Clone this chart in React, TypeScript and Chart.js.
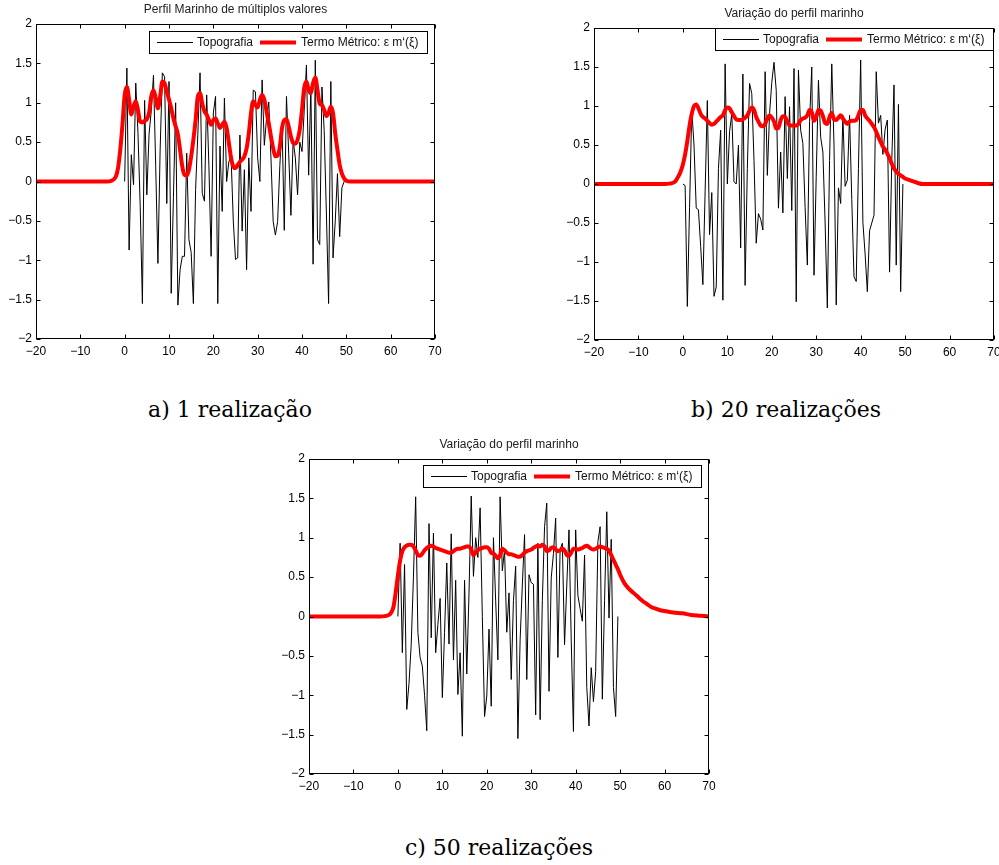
import React, { useEffect, useRef } from 'react';
import { Chart, registerables } from 'chart.js';

Chart.register(...registerables);

const FONT = '"Liberation Sans", Arial, Helvetica, sans-serif';

// Sample positions of the topography (black) series
const TOPO_X = [
  0, 0.5, 1, 1.5, 2, 2.5, 3, 3.5, 4, 4.5, 5, 5.5, 6, 6.5, 7, 7.5, 8, 8.5, 9, 9.5,
  10, 10.5, 11, 11.5, 12, 12.5, 13, 13.5, 14, 14.5, 15, 15.5, 16, 16.5, 17, 17.5, 18, 18.5, 19, 19.5,
  20, 20.5, 21, 21.5, 22, 22.5, 23, 23.5, 24, 24.5, 25, 25.5, 26, 26.5, 27, 27.5, 28, 28.5, 29, 29.5,
  30, 30.5, 31, 31.5, 32, 32.5, 33, 33.5, 34, 34.5, 35, 35.5, 36, 36.5, 37, 37.5, 38, 38.5, 39, 39.5,
  40, 40.5, 41, 41.5, 42, 42.5, 43, 43.5, 44, 44.5, 45, 45.5, 46, 46.5, 47, 47.5, 48, 48.5, 49, 49.5,
];

// a) 1 realização
const TOPO_A = [
  0, 1.44, -0.87, 0.34, -0.04, 1.25, 0.62, -0.3, -1.55, 1.03,
  -0.17, 0.6, 0.9, 1.35, 0.2, -1.04, 0.4, 1.38, 1.33, -0.28,
  1.27, -1.42, -0.2, 1.0, -1.57, -1.12, -0.95, -0.95, 0.36, -0.74,
  -0.9, -1.55, -0.1, 0.6, 1.38, -0.15, -0.25, 1.1, 0.2, -0.95,
  0.87, 1.08, -1.55, 0.45, -0.38, 1.06, 0.0, 0.25, 0.32, -0.5,
  -0.99, -0.97, 0.59, -0.63, 0.15, -1.12, 0.3, -0.38, 1.16, 1.14,
  0.3, 0.0, 1.29, 0.46, 0.8, 1.01, 0.3, -0.51, -0.68, -0.51,
  0.2, 0.74, -0.62, 1.08, 0.36, -0.43, 0.53, 0.3, -0.17, 0.5,
  0.38, 0.9, 1.48, 0.08, 1.2, -1.05, 1.54, -0.74, -0.8, 1.2,
  0.65, -0.4, -1.55, 1.27, -0.97, -0.5, 0.1, -0.7, -0.08, 0,
];

// b) 20 realizações
const TOPO_B = [
  0, -0.02, -1.57, -0.3, 0.95, 0.5, -0.31, -0.33, -0.8, -1.29,
  -0.1, 1.07, -0.65, -0.11, -1.44, -1.32, 0.2, 0.69, -1.49, 1.54,
  0.0, 0.67, 0.9, 0.03, 0.0, 0.5, -0.82, 1.41, -1.3, 0.2,
  1.29, 1.16, 0.3, -0.76, -0.38, -0.45, -0.59, 1.44, 0.11, 0.9,
  1.3, 1.56, 1.2, -0.31, 0.41, -0.37, 1.12, 0.07, 0.99, -0.34,
  1.48, -1.51, 1.46, 0.69, 0.52, -0.3, -1.04, 0.8, 1.5, -1.17,
  0.1, 1.33, 0.6, 0.41, -0.5, -1.59, 0.3, 1.54, 0.5, -1.55,
  -0.05, -0.25, 0.88, -0.03, 0.05, 0.88, -0.2, -1.19, -1.25, 0.2,
  1.59, -0.49, -0.9, -1.38, -0.6, -0.5, -0.4, 1.44, 0.78, 0.88,
  0.38, 0.7, 0.82, -1.13, 0.3, 1.27, -1.04, 1.02, -1.38, 0,
];

// c) 50 realizações
const TOPO_C = [
  0, 0.93, -0.46, 0.66, -1.18, -0.85, -0.35, 0.5, 1.52, -0.2,
  -0.52, -0.63, -1.0, -1.45, 1.18, -0.27, 1.06, -0.46, -0.1, 0.23,
  -1.03, -0.2, 0.68, -0.35, 1.05, -0.55, 0.46, -0.99, -0.46, -1.52,
  0.46, -0.73, 0.3, 1.53, 0.51, 1.0, 0.75, 1.38, 0.0, -1.27,
  -1.01, -0.16, -1.14, 1.0, 0.2, -0.55, 1.52, 0.58, 0.85, -0.2,
  0.3, -0.8, 0.2, 0.64, -1.55, -0.3, 0.4, 1.04, -0.8, 0.53,
  0.43, 0.41, -1.25, 0.93, -1.31, 0.2, 1.14, 1.44, -0.95, 0.49,
  0.8, 1.25, -0.52, 0.85, 0.93, -0.36, 0.4, 1.1, -0.3, -1.46,
  1.1, 0.27, 0.1, -0.06, 0.78, -0.9, -1.39, -0.65, -1.08, -0.7,
  0.95, 1.14, -1.05, 0.2, 1.33, -0.02, 0.98, -0.9, -1.27, 0,
];

// Sample positions of the metric term (red) curves
const RED_X = [
  -20, -4, -3, -2, -1.5, -1, -0.5,
  0, 0.5, 1, 1.5, 2, 2.5, 3, 3.5, 4, 4.5, 5, 5.5, 6, 6.5, 7, 7.5, 8, 8.5, 9, 9.5,
  10, 10.5, 11, 11.5, 12, 12.5, 13, 13.5, 14, 14.5, 15, 15.5, 16, 16.5, 17, 17.5, 18, 18.5, 19, 19.5,
  20, 20.5, 21, 21.5, 22, 22.5, 23, 23.5, 24, 24.5, 25, 25.5, 26, 26.5, 27, 27.5, 28, 28.5, 29, 29.5,
  30, 30.5, 31, 31.5, 32, 32.5, 33, 33.5, 34, 34.5, 35, 35.5, 36, 36.5, 37, 37.5, 38, 38.5, 39, 39.5,
  40, 40.5, 41, 41.5, 42, 42.5, 43, 43.5, 44, 44.5, 45, 45.5, 46, 46.5, 47, 47.5, 48, 48.5, 49, 49.5,
  50, 51, 52, 53, 54, 55, 56, 57, 58, 59, 60, 62, 64, 66, 68, 70,
];

const RED_A = [
  0, 0, 0.01, 0.06, 0.17, 0.4, 0.72,
  1.1, 1.2, 1.04, 0.85, 0.95, 1.02, 0.91, 0.76, 0.75, 0.77, 0.79, 0.87, 1.08, 1.16, 1.06, 0.93, 1.08, 1.27, 1.25, 1.14,
  1.04, 0.93, 0.8, 0.7, 0.6, 0.4, 0.19, 0.085, 0.076, 0.15, 0.32, 0.53, 0.78, 1.08, 1.12, 0.99, 0.89, 0.85, 0.78, 0.72,
  0.78, 0.8, 0.74, 0.68, 0.72, 0.76, 0.68, 0.49, 0.3, 0.19, 0.17, 0.21, 0.25, 0.28, 0.32, 0.42, 0.61, 0.87, 1.02, 0.97,
  0.94, 1.04, 1.1, 1.04, 0.89, 0.74, 0.57, 0.42, 0.32, 0.33, 0.44, 0.68, 0.78, 0.79, 0.7, 0.57, 0.49, 0.48, 0.53, 0.66,
  0.91, 1.19, 1.27, 1.16, 1.12, 1.25, 1.32, 1.16, 0.99, 0.97, 0.91, 0.83, 0.87, 0.95, 0.87, 0.61, 0.4, 0.21, 0.1, 0.04,
  0.01, 0, 0, 0, 0, 0, 0, 0, 0, 0, 0, 0, 0, 0, 0, 0,
];

const RED_B = [
  0, 0, 0.005, 0.02, 0.05, 0.1, 0.16,
  0.25, 0.38, 0.55, 0.75, 0.9, 1.0, 1.02, 0.97, 0.9, 0.86, 0.84, 0.81, 0.78, 0.76, 0.77, 0.8, 0.83, 0.86, 0.88, 0.95,
  0.98, 0.97, 0.92, 0.87, 0.83, 0.82, 0.82, 0.83, 0.85, 0.88, 0.94, 0.98, 0.95, 0.86, 0.8, 0.75, 0.74, 0.77, 0.84, 0.88,
  0.85, 0.8, 0.71, 0.72, 0.82, 0.87, 0.86, 0.8, 0.75, 0.75, 0.75, 0.75, 0.77, 0.82, 0.84, 0.85, 0.88, 0.95, 0.92, 0.81,
  0.86, 0.95, 0.94, 0.87, 0.78, 0.77, 0.86, 0.91, 0.83, 0.82, 0.85, 0.88, 0.84, 0.8, 0.77, 0.8, 0.81, 0.81, 0.82, 0.88,
  0.95, 0.95, 0.88, 0.84, 0.81, 0.77, 0.73, 0.67, 0.6, 0.54, 0.48, 0.44, 0.39, 0.33, 0.26, 0.2, 0.16, 0.13, 0.11, 0.09,
  0.07, 0.05, 0.03, 0.01, 0, 0, 0, 0, 0, 0, 0, 0, 0, 0, 0, 0,
];

const RED_C = [
  0, 0, 0.005, 0.02, 0.05, 0.12, 0.3,
  0.52, 0.71, 0.83, 0.88, 0.9, 0.91, 0.91, 0.89, 0.84, 0.78, 0.77, 0.8, 0.84, 0.87, 0.89, 0.9, 0.89, 0.87, 0.86, 0.85,
  0.84, 0.83, 0.82, 0.81, 0.81, 0.83, 0.85, 0.86, 0.86, 0.87, 0.88, 0.89, 0.89, 0.85, 0.78, 0.81, 0.84, 0.86, 0.87, 0.88,
  0.88, 0.86, 0.81, 0.8, 0.77, 0.74, 0.78, 0.86, 0.84, 0.81, 0.79, 0.79, 0.78, 0.77, 0.76, 0.76, 0.78, 0.81, 0.83, 0.84,
  0.85, 0.87, 0.89, 0.9, 0.89, 0.91, 0.89, 0.83, 0.84, 0.87, 0.88, 0.85, 0.83, 0.84, 0.86, 0.84, 0.78, 0.77, 0.81, 0.86,
  0.86, 0.85, 0.86, 0.87, 0.89, 0.9, 0.88, 0.86, 0.85, 0.86, 0.88, 0.89, 0.88, 0.87, 0.86, 0.84, 0.78, 0.72, 0.66, 0.6,
  0.53, 0.42, 0.35, 0.3, 0.25, 0.2, 0.16, 0.12, 0.1, 0.08, 0.07, 0.05, 0.04, 0.02, 0.01, 0,
];

const TITLES = ['Perfil Marinho de múltiplos valores', 'Variação do perfil marinho', 'Variação do perfil marinho'];
const CAPTIONS = ['a) 1 realização', 'b) 20 realizações', 'c) 50 realizações'];
const SERIES_LABELS = ['Topografia', 'Termo Métrico: ε m‘(ξ)'];

const fmt = (v: number) => (v < 0 ? '\u2212' + String(Math.abs(v)) : String(v));

const decor = {
  id: 'decor',
  afterDraw(chart: any, _args: any, opts: any) {
    const { ctx, chartArea: a, scales } = chart;
    const sx = scales.x;
    const sy = scales.y;
    ctx.save();
    const L = Math.round(a.left) + 0.5;
    const R = Math.round(a.right) - 0.5;
    const T = Math.round(a.top) + 0.5;
    const B = Math.round(a.bottom) - 0.5;
    ctx.strokeStyle = '#000';
    ctx.lineWidth = 1;
    ctx.beginPath();
    sx.ticks.forEach((t: any) => {
      const px = Math.round(sx.getPixelForValue(t.value)) + 0.5;
      ctx.moveTo(px, B); ctx.lineTo(px, B - 4);
      ctx.moveTo(px, T); ctx.lineTo(px, T + 4);
    });
    sy.ticks.forEach((t: any) => {
      const py = Math.round(sy.getPixelForValue(t.value)) + 0.5;
      ctx.moveTo(L, py); ctx.lineTo(L + 4, py);
      ctx.moveTo(R, py); ctx.lineTo(R - 4, py);
    });
    ctx.stroke();
    ctx.strokeRect(L, T, R - L, B - T);

    // title
    ctx.fillStyle = '#222';
    ctx.font = `12px ${FONT}`;
    ctx.textAlign = 'center';
    ctx.textBaseline = 'middle';
    ctx.fillText(opts.title, (a.left + a.right) / 2, a.top - 14);

    // legend
    const ds = chart.data.datasets;
    const bw = 278;
    const bh = 22;
    const bx = Math.round(a.right - opts.insetRight - bw);
    const by = Math.round(a.top + opts.insetTop);
    ctx.fillStyle = '#fff';
    ctx.fillRect(bx, by, bw, bh);
    ctx.strokeStyle = '#000';
    ctx.lineWidth = 1;
    ctx.strokeRect(bx + 0.5, by + 0.5, bw, bh);
    const cy = by + bh / 2 + 0.5;
    ctx.textAlign = 'left';
    ctx.fillStyle = '#111';
    ctx.beginPath();
    ctx.strokeStyle = ds[0].borderColor;
    ctx.lineWidth = 1;
    ctx.moveTo(bx + 8, cy); ctx.lineTo(bx + 44, cy);
    ctx.stroke();
    ctx.fillText(ds[0].label, bx + 48, cy);
    ctx.beginPath();
    ctx.strokeStyle = ds[1].borderColor;
    ctx.lineWidth = 4;
    ctx.moveTo(bx + 111, cy); ctx.lineTo(bx + 147, cy);
    ctx.stroke();
    ctx.fillText(ds[1].label, bx + 152, cy);
    ctx.restore();
  },
};

type PanelProps = {
  left: number; top: number; width: number; height: number;
  padL: number; padT: number; padR: number; yw: number; xh: number;
  title: string; topo: number[]; red: number[]; insetRight: number; insetTop: number;
};

function Panel(p: PanelProps) {
  const ref = useRef<HTMLCanvasElement | null>(null);
  useEffect(() => {
    if (!ref.current) return;
    const tickFont = { family: FONT, size: 12 };
    const chart = new Chart(ref.current, {
      type: 'line',
      data: {
        datasets: [
          {
            label: SERIES_LABELS[0],
            data: TOPO_X.map((x, i) => ({ x, y: p.topo[i] })),
            borderColor: '#000000',
            borderWidth: 1,
            pointRadius: 0,
            tension: 0,
            order: 2,
          },
          {
            label: SERIES_LABELS[1],
            data: RED_X.map((x, i) => ({ x, y: p.red[i] })),
            borderColor: '#ff0000',
            borderWidth: 4,
            pointRadius: 0,
            cubicInterpolationMode: 'monotone',
            borderJoinStyle: 'round',
            borderCapStyle: 'round',
            order: 1,
          },
        ],
      },
      options: {
        animation: false,
        responsive: false,
        events: [],
        layout: { padding: { left: p.padL, top: p.padT, right: p.padR, bottom: 0 } },
        plugins: {
          legend: { display: false },
          title: { display: false },
          tooltip: { enabled: false },
          decor: { title: p.title, insetRight: p.insetRight, insetTop: p.insetTop },
        } as any,
        scales: {
          x: {
            type: 'linear',
            min: -20,
            max: 70,
            grid: { display: false, drawTicks: false },
            border: { display: false },
            ticks: {
              stepSize: 10, autoSkip: false, maxRotation: 0, padding: 5,
              color: '#000', font: tickFont, callback: (v: any) => fmt(Number(v)),
            },
            afterFit: (s: any) => { s.height = p.xh; s.paddingLeft = 0; s.paddingRight = 0; },
          },
          y: {
            type: 'linear',
            min: -2,
            max: 2,
            grid: { display: false, drawTicks: false },
            border: { display: false },
            ticks: {
              stepSize: 0.5, autoSkip: false, padding: 4,
              color: '#000', font: tickFont, callback: (v: any) => fmt(Number(v)),
            },
            afterFit: (s: any) => { s.width = p.yw; s.paddingTop = 0; s.paddingBottom = 0; },
          },
        },
      } as any,
      plugins: [decor],
    });
    return () => chart.destroy();
  }, []);
  return (
    <canvas
      ref={ref}
      width={p.width}
      height={p.height}
      style={{ position: 'absolute', left: p.left, top: p.top, width: p.width, height: p.height }}
    />
  );
}

const captionStyle = (cx: number, cy: number): React.CSSProperties => ({
  position: 'absolute',
  left: cx - 200,
  top: cy - 14,
  width: 400,
  height: 28,
  lineHeight: '28px',
  textAlign: 'center',
  fontFamily: '"DejaVu Serif", "Liberation Serif", serif',
  fontSize: 22,
  color: '#000',
});

export default function App() {
  return (
    <div style={{ position: 'absolute', left: 0, top: 0, width: 999, height: 865, background: '#fff', overflow: 'hidden' }}>
      <Panel left={0} top={0} width={445} height={360} padL={0} padT={24} padR={10} yw={36} xh={21}
        title={TITLES[0]} topo={TOPO_A} red={RED_A} insetRight={8} insetTop={7} />
      <Panel left={545} top={0} width={454} height={360} padL={0} padT={28} padR={5} yw={49} xh={20}
        title={TITLES[1]} topo={TOPO_B} red={RED_B} insetRight={1} insetTop={0} />
      <Panel left={260} top={432} width={460} height={362} padL={0} padT={27} padR={11} yw={49} xh={20}
        title={TITLES[2]} topo={TOPO_C} red={RED_C} insetRight={8} insetTop={6} />
      <div style={captionStyle(230, 410)}>{CAPTIONS[0]}</div>
      <div style={captionStyle(786, 410)}>{CAPTIONS[1]}</div>
      <div style={captionStyle(499, 848)}>{CAPTIONS[2]}</div>
    </div>
  );
}
